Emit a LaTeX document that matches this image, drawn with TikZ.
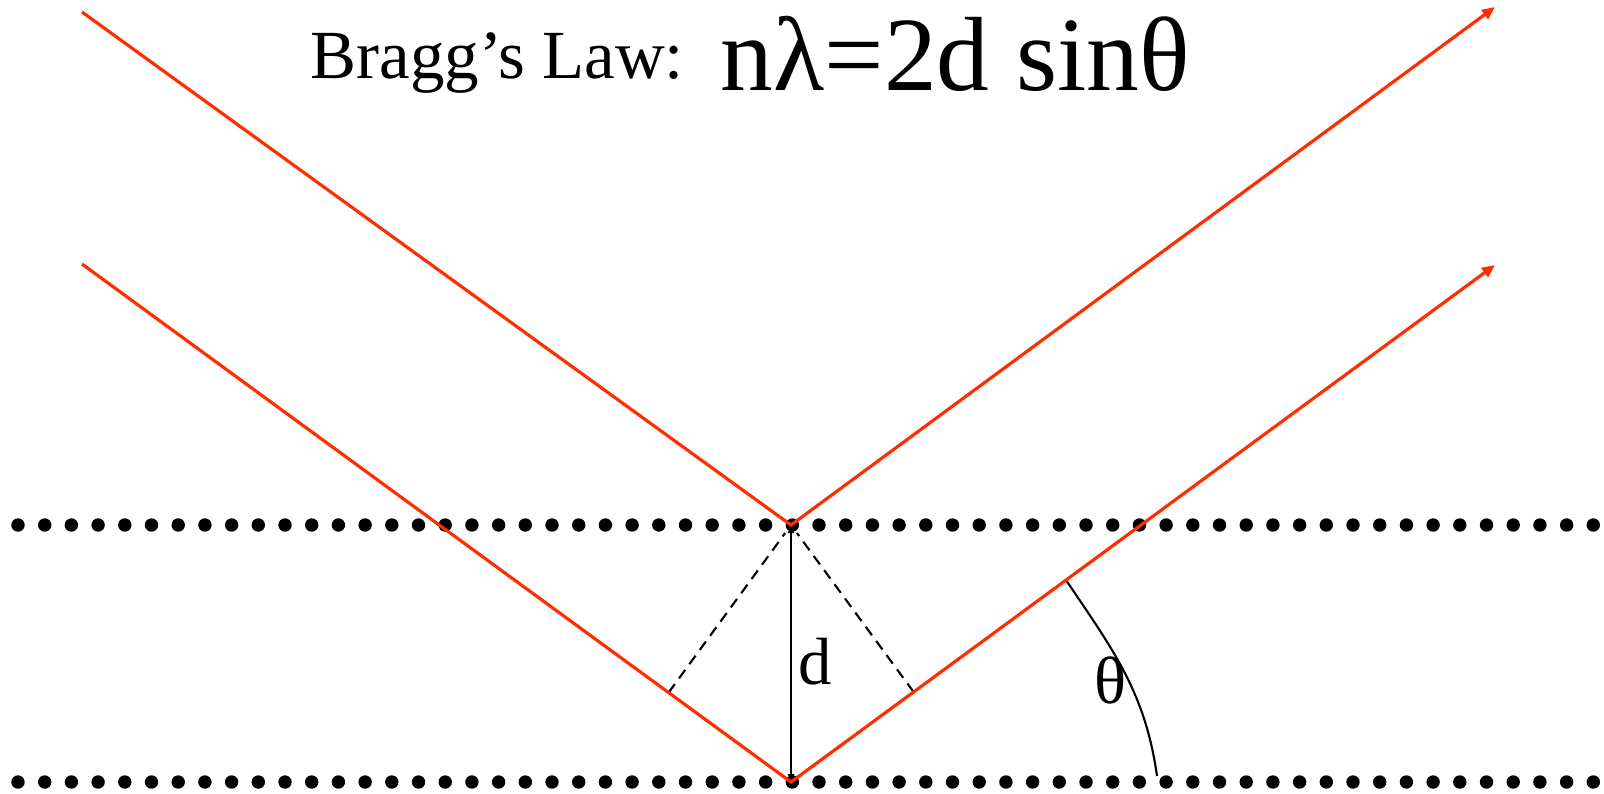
\documentclass[tikz,border=0pt]{standalone}
\usepackage{fontspec}
\setmainfont{Liberation Serif}
\usepackage{tikz}
\usetikzlibrary{calc,arrows.meta}
\definecolor{rayred}{RGB}{255,45,0}

\begin{document}
\begin{tikzpicture}[x=0.01cm,y=0.01cm,>=Stealth,
  ray/.style={draw=rayred,line width=0.9pt,-{Triangle[length=0.13cm,width=0.11cm]}},
  atom/.style={circle,fill=black,inner sep=0pt,minimum size=0.134cm},
  lbl/.style={inner sep=0pt,font=\fontsize{19}{23}\selectfont}]
  \useasboundingbox (0,0) rectangle (1604,793);
  % two planes of atoms
  \foreach \i in {0,...,59} {
    \node[atom] (t\i) at (18+26.7*\i,268) {};
    \node[atom] (b\i) at (18+26.7*\i,11) {};
  }
  \coordinate (A) at (791,268);
  \coordinate (B) at (791,11);
  \coordinate (in1) at (82,781);
  \coordinate (out1) at (1495,786);
  \coordinate (in2) at (82,529);
  \coordinate (out2) at (1495,528);
  \coordinate (fl) at ($(B)!(A)!(in2)$);
  \coordinate (fr) at ($(B)!(A)!(out2)$);
  \coordinate (a1) at ($(B)!3.41cm!(out2)$);
  \coordinate (a2) at (1157,17);
  % spacing and path difference
  \draw[<->,>={Triangle[length=0.08cm,width=0.06cm]},line width=0.6pt] (B) -- (A);
  \draw[dash pattern=on 3pt off 2pt,line width=0.6pt,shorten >=0.1cm] (fl) -- (A);
  \draw[dash pattern=on 3pt off 2pt,line width=0.6pt,shorten >=0.1cm] (fr) -- (A);
  \draw[line width=0.6pt] (a1) to[out=-56,in=98] (a2);
  % rays
  \draw[ray] (in1) -- (A) -- (out1);
  \draw[ray] (in2) -- (B) -- (out2);
  \node[lbl] (dl) at (815,131) {d};
  \node[lbl] (th) at (1110,113) {θ};
  \node[anchor=base west,inner sep=0pt,font=\fontsize{19.6}{23}\selectfont] (title) at (310,715) {Bragg’s Law:};
  \node[anchor=base west,inner sep=0pt,font=\fontsize{30}{36}\selectfont] (law) at (720,703) {nλ=2d sinθ};
\end{tikzpicture}
\end{document}
